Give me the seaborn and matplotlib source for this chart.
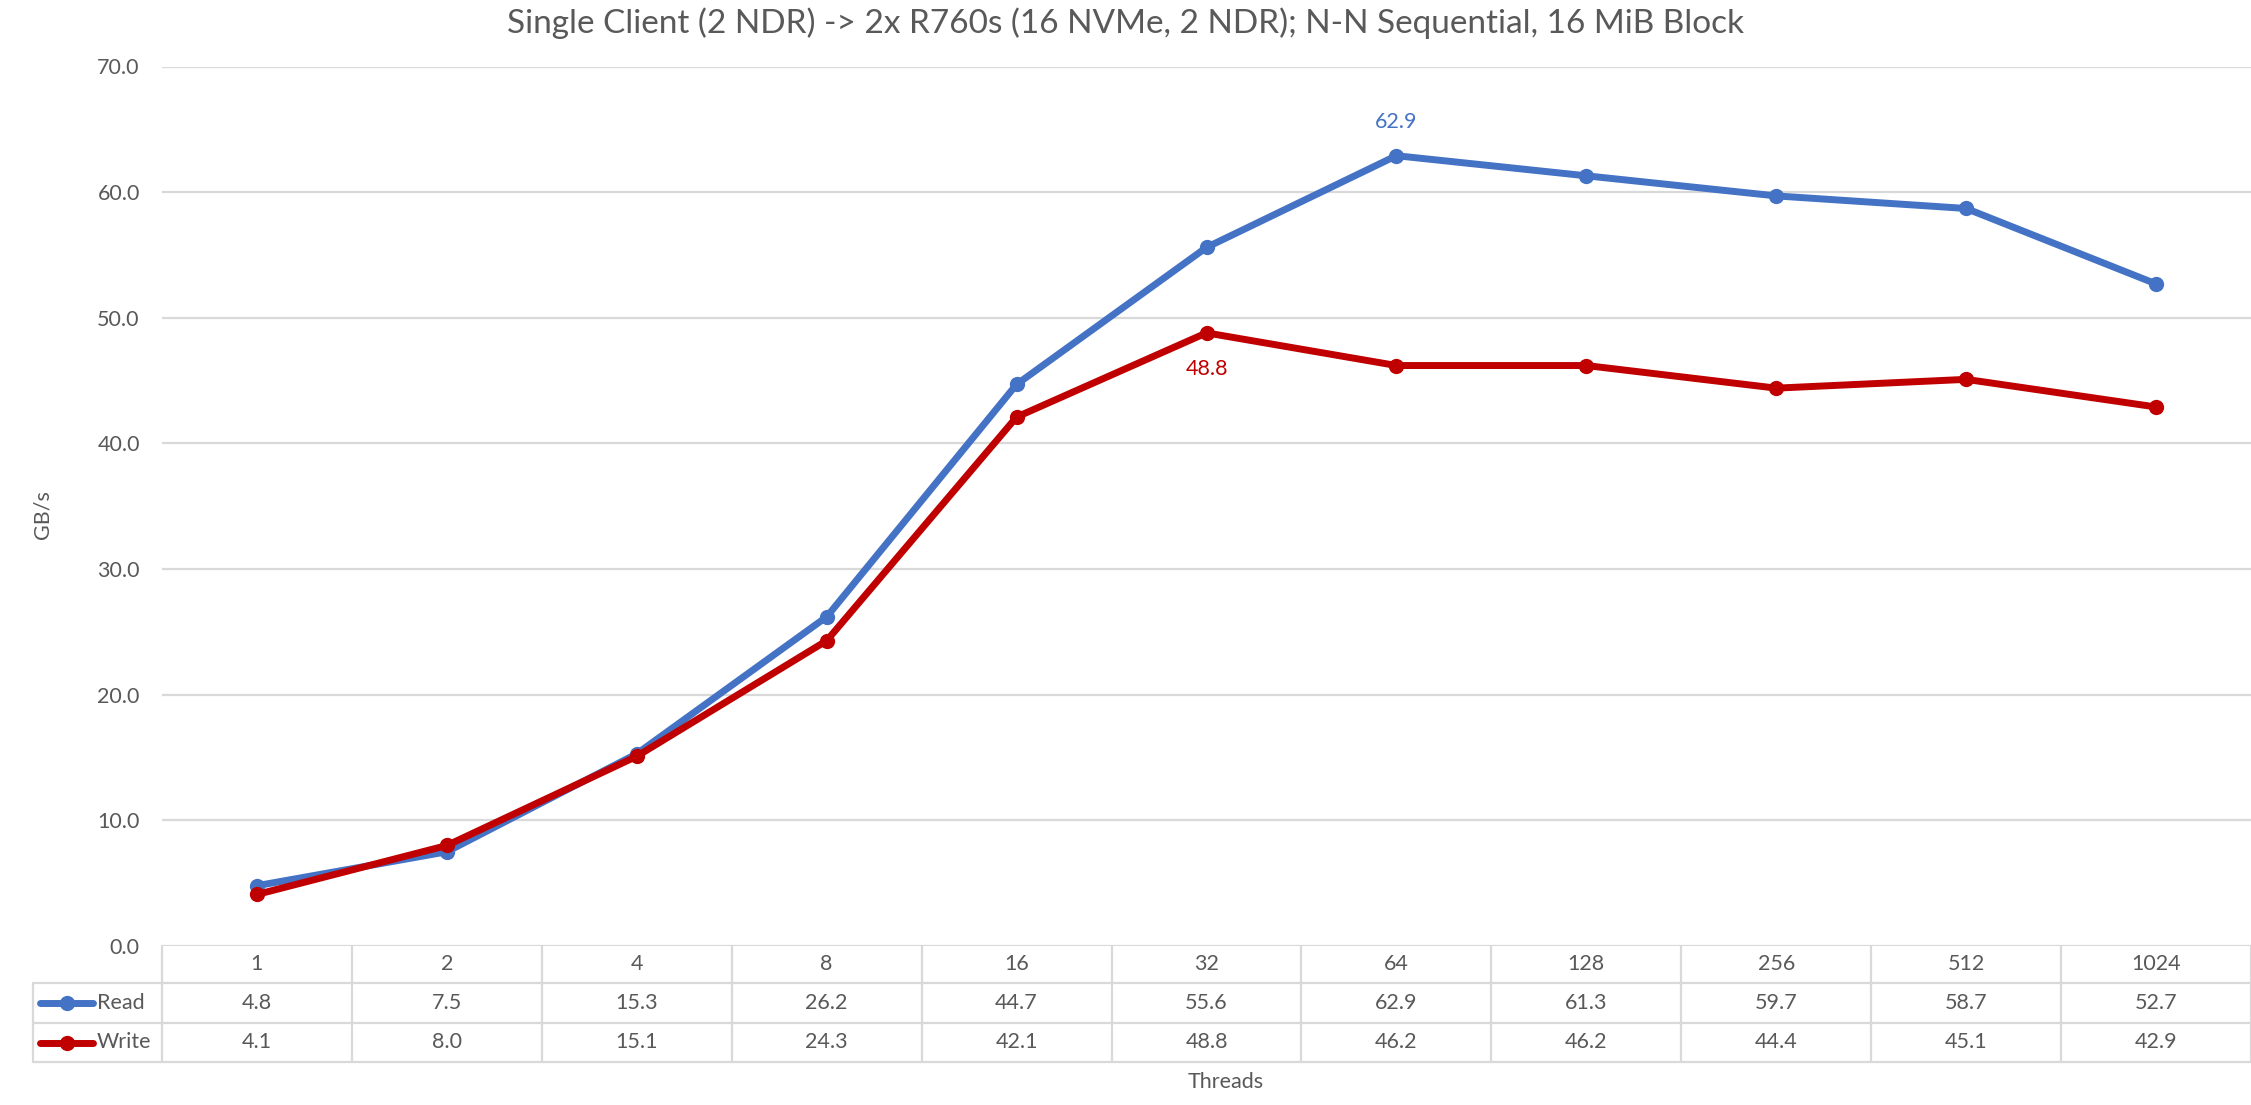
import matplotlib
matplotlib.use("Agg")
import matplotlib.pyplot as plt
import matplotlib.transforms as mtransforms
import numpy as np
import pandas as pd
import seaborn as sns

threads = ["1", "2", "4", "8", "16", "32", "64", "128", "256", "512", "1024"]
read = [4.8, 7.5, 15.3, 26.2, 44.7, 55.6, 62.9, 61.3, 59.7, 58.7, 52.7]
write = [4.1, 8.0, 15.1, 24.3, 42.1, 48.8, 46.2, 46.2, 44.4, 45.1, 42.9]
y_ticks = [0, 10, 20, 30, 40, 50, 60, 70]

BLUE = "#4472C4"
RED = "#C00000"
GRID = "#D9D9D9"
TXT = "#595959"
FS = 15.5

W, H = 2251, 1105
sns.set_theme(style="white")
plt.rcParams["font.family"] = ["Lato", "DejaVu Sans"]

df = pd.DataFrame({
    "pos": list(range(len(threads))) * 2,
    "GBps": read + write,
    "Op": ["Read"] * len(read) + ["Write"] * len(write),
})

fig = plt.figure(figsize=(W / 100, H / 100), dpi=100)
# plot area in pixels: x 162..2251, y 66.5..946
left, right, top, bottom = 162, 2251, 66.5, 946
ax = fig.add_axes([left / W, 1 - bottom / H, (right - left) / W, (bottom - top) / H])

sns.lineplot(data=df, x="pos", y="GBps", hue="Op", hue_order=["Read", "Write"],
             palette={"Read": BLUE, "Write": RED}, marker="o", markersize=11,
             markeredgewidth=0, linewidth=5, legend=False, ax=ax)

ax.set_xlim(-0.5, len(threads) - 0.5)
ax.set_ylim(0, 70)
ax.set_yticks(y_ticks)
ax.set_yticklabels([f"{v:.1f}" for v in y_ticks], color=TXT, fontsize=FS)
ax.set_xticks([])
ax.tick_params(axis="y", length=0, pad=16)
ax.grid(axis="y", color=GRID, linewidth=1.6)
ax.set_axisbelow(True)
for s in ax.spines.values():
    s.set_visible(False)
ax.set_xlabel("")
ax.set_ylabel("GB/s", color=TXT, fontsize=FS)
ax.yaxis.set_label_coords((53 - left) / (right - left), 0.49)

fig.suptitle("Single Client (2 NDR) -> 2x R760s (16 NVMe, 2 NDR); N-N Sequential, 16 MiB Block",
             x=0.5, y=1 - 23 / H, va="center", color=TXT, fontsize=24)

# peak labels
i_r = int(np.argmax(read))
ax.annotate(f"{read[i_r]:.1f}", (i_r, read[i_r]), xytext=(0, 24), textcoords="offset points",
            ha="center", va="center", color=BLUE, fontsize=FS)
i_w = int(np.argmax(write))
ax.annotate(f"{write[i_w]:.1f}", (i_w, write[i_w]), xytext=(0, -26), textcoords="offset points",
            ha="center", va="center", color=RED, fontsize=FS)

# data table below the plot
ah = bottom - top
r = [0, -37 / ah, -77 / ah, -116 / ah]
trans = mtransforms.blended_transform_factory(ax.transData, ax.transAxes)
leg_x0 = (33 - left) / (right - left)
lkw = dict(color=GRID, linewidth=1.6, clip_on=False)
for k in range(len(threads) + 1):
    ax.plot([k - 0.5, k - 0.5], [r[0], r[3]], transform=trans, **lkw)
for yy in r[1:]:
    ax.plot([leg_x0, 1], [yy, yy], transform=ax.transAxes, **lkw)
ax.plot([leg_x0, leg_x0], [r[1], r[3]], transform=ax.transAxes, **lkw)

for k, t in enumerate(threads):
    ax.text(k, (r[0] + r[1]) / 2, t, transform=trans, ha="center", va="center", color=TXT, fontsize=FS)
    ax.text(k, (r[1] + r[2]) / 2, f"{read[k]:.1f}", transform=trans, ha="center", va="center",
            color=TXT, fontsize=FS)
    ax.text(k, (r[2] + r[3]) / 2, f"{write[k]:.1f}", transform=trans, ha="center", va="center",
            color=TXT, fontsize=FS)

for name, col, y0, y1 in [("Read", BLUE, r[1], r[2]), ("Write", RED, r[2], r[3])]:
    yc = (y0 + y1) / 2
    x_a = (40 - left) / (right - left)
    x_b = (93 - left) / (right - left)
    ax.plot([x_a, x_b], [yc, yc], transform=ax.transAxes, color=col, linewidth=5,
            solid_capstyle="round", clip_on=False)
    ax.plot([(x_a + x_b) / 2], [yc], transform=ax.transAxes, marker="o", markersize=11,
            color=col, markeredgewidth=0, clip_on=False)
    ax.text((97 - left) / (right - left), yc, name, transform=ax.transAxes, ha="left",
            va="center", color=TXT, fontsize=FS)

ax.text(0.509, -(1082 - bottom) / ah, "Threads", transform=ax.transAxes, ha="center",
        va="center", color=TXT, fontsize=FS)

fig.savefig("out.png", dpi=100)
